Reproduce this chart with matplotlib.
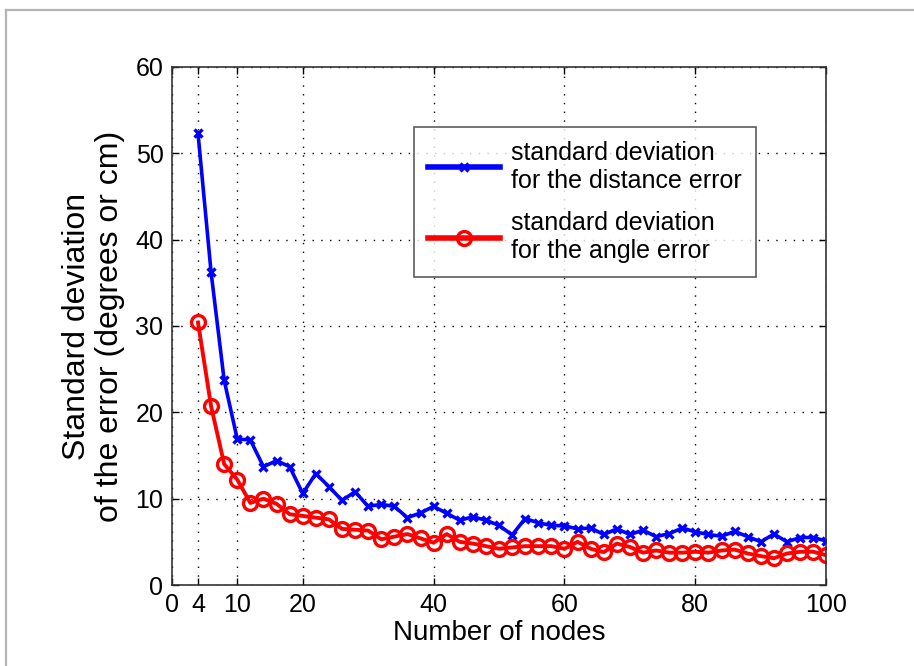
import numpy as np
import matplotlib
matplotlib.use("Agg")
from matplotlib import pyplot as plt
from matplotlib.lines import Line2D

plt.rcParams['font.family'] = ['Liberation Sans', 'DejaVu Sans']

nodes = list(range(4, 101, 2))
dist_std = [52.3, 36.2, 23.7, 16.9, 16.8, 13.7, 14.4, 13.7, 10.6, 12.9,
            11.4, 9.8, 10.8, 9.1, 9.35, 9.1, 7.8, 8.35, 9.1, 8.3,
            7.5, 7.9, 7.5, 6.9, 5.8, 7.7, 7.2, 6.9, 6.85, 6.5,
            6.6, 5.85, 6.5, 5.85, 6.35, 5.6, 5.95, 6.6, 6.15, 5.85,
            5.65, 6.2, 5.6, 5.0, 5.9, 5.0, 5.5, 5.5, 5.1]
angle_std = [30.4, 20.7, 14.0, 12.2, 9.5, 10.0, 9.4, 8.2, 8.0, 7.8,
             7.6, 6.5, 6.4, 6.3, 5.3, 5.6, 5.9, 5.4, 4.9, 5.9,
             5.0, 4.8, 4.5, 4.2, 4.35, 4.5, 4.5, 4.5, 4.2, 5.0,
             4.2, 3.8, 4.8, 4.4, 3.75, 4.0, 3.75, 3.75, 3.85, 3.75,
             4.0, 4.1, 3.65, 3.35, 3.1, 3.65, 3.85, 3.85, 3.45]
xticks = [0, 4, 10, 20, 40, 60, 80, 100]
yticks = [0, 10, 20, 30, 40, 50, 60]

fig = plt.figure(figsize=(9.14, 6.66), dpi=100)
ax = fig.add_axes([0.188, 0.1216, 0.716, 0.778])

ax.plot(nodes, dist_std, '-x', color='blue', lw=2.6, ms=6, mew=2.4,
        label='standard deviation\nfor the distance error')
ax.plot(nodes, angle_std, '-o', color='red', lw=2.8, ms=10, mew=2.4,
        mfc='none', label='standard deviation\nfor the angle error')

ax.set_xlim(0, 100)
ax.set_ylim(0, 60)
ax.set_xticks(xticks)
ax.set_yticks(yticks)
ax.grid(True, color='black', linestyle=(0, (1, 5.3)), lw=1.0)
ax.tick_params(direction='in', top=True, right=True, labelsize=18,
               length=5, width=1, pad=6)
for s in ax.spines.values():
    s.set_linewidth(1.2)
    s.set_color('#333333')

ax.set_xlabel('Number of nodes', fontsize=20, labelpad=2)
ax.set_ylabel('Standard deviation\nof the error (degrees or cm)',
              fontsize=23, linespacing=1.1)
ax.yaxis.set_label_coords(-0.072, 0.5)

leg = ax.legend(loc='upper left', bbox_to_anchor=(0.37, 0.884),
                fontsize=18, frameon=True, fancybox=False, handlelength=2.9,
                handletextpad=0.45, labelspacing=0.75, borderpad=0.55,
                borderaxespad=0)
leg.get_frame().set_edgecolor('#333333')
leg.get_frame().set_linewidth(1.2)
for h in leg.get_lines():
    h.set_linewidth(4)

# light grey frame round the picture (top and left only)
fig.add_artist(Line2D([6 / 914, 1], [1 - 10 / 666, 1 - 10 / 666],
                      transform=fig.transFigure, color='#b4b4b4', lw=1.6))
fig.add_artist(Line2D([6 / 914, 6 / 914], [0, 1 - 10 / 666],
                      transform=fig.transFigure, color='#b4b4b4', lw=1.6))

fig.savefig('out.png', dpi=100)
